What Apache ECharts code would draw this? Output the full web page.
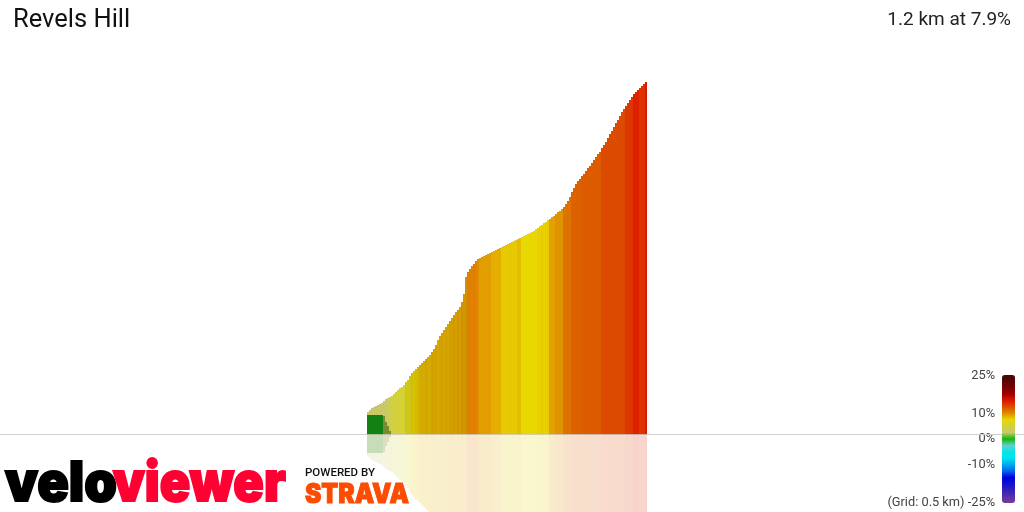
<!DOCTYPE html>
<html><head><meta charset="utf-8">
<style>html,body{margin:0;padding:0;background:#fff}#c{width:1024px;height:512px}</style>
<script src="https://cdn.jsdelivr.net/npm/echarts@6/dist/echarts.min.js"></script>
</head><body><div id="c"></div>
<script>
const titleText = "Revels Hill";
const summaryText = "1.2 km at 7.9%";
const scaleLabels = ["25%","10%","0%","-10%","(Grid: 0.5 km) -25%"];
const scaleGrades = [25,10,0,-10,-25];
const elevation = [22,24,26,27,28,29,30,31,33,35,36,37,38,40,42,44,46,47,49,52,54,58,61,63,65,67,69,71,73,75,77,79,82,85,89,94,98,101,104,107,110,113,116,119,122,124,127,132,140,157,162,165,168,170,173,175,176,177,178,179,180,181,182,183,184,185,186,187,188,189,190,191,192,193,194,195,196,197,198,199,200,201,202,203,205,206,208,209,211,212,214,215,217,218,220,222,223,225,227,230,233,237,242,246,250,253,255,258,260,263,266,268,271,274,277,280,282,286,289,292,296,300,303,307,311,314,318,322,325,328,331,334,337,340,342,344,346,348,350,352];
const grade = [2.5,2.5,2.5,2.5,2.5,2.5,2.5,2.5,2.5,2.5,3.5,4,
 4.5,5,5,5,5.2, 5.5,5, 6.5,6.6,6, 7.9,7.7,8,8.2,
 8.6,8.6,8.5,8.8,8.6,8.5,8.9, 8.8,8.9,8.6,8.8,9,8.7,8.9,8.8,9,
 9,9.2,8.9,9.3,9,9.4,9.2,9.5, 10.6,10.6,10.4,10.6,10.4, 10,
 9.4,9.4,9.4,9.4,9.4,9.4, 8.9,8.9,8.8,8.9,8.9,
 8,8,8,8,8.1,8,8,8, 8.4,8.4, 7.5,7.5,7.5,7.5,7.5,7.5,7.5,7.5,
 7.8,7.8,7.9,7.8,7.8,7.9, 9.3,9.3,9.3, 9.8,9.8,9.8,9.8, 11,11,11.2,11,
 11.8,11.8,11.8,11.8,11.8, 12,12,12.1,12,12,12.1,12,12,12.1,12,
 12.7,12.7,12.8,12.7,12.7,12.8,12.7,12.7,12.8,12.7,12.7,12.8,
 13.6,13.6,13.6,13.6, 14.6,14.6,14.6, 13.8,13.8,13.8, 15];
const greenHeights = [19,19,19,19,19,19,19,19];
const brownHeights = [18,12,8,3];
const shadeColumns = [19,50];
const scaleColors = ["#4a0505","#5e0404","#7a0202","#a00000","#dc1800","#dc5000","#e08c00","#e8d800","#d4d03c","#c8c868","#10b810","#66cccc","#00e8e8","#00e0f0","#00a8f0","#0066ee","#0000e0","#1010d0","#3322b8","#5530a8","#7a3a9a"];

const dist = elevation.map((_, i) => 2 * i + 1);
const hill = elevation.map((h, i) => [dist[i], h, grade[i]]);
const mirror = elevation.map((h, i) => [dist[i], -h, grade[i]]);
const green = greenHeights.map((h, i) => [dist[i], h]);
const brown = brownHeights.map((h, i) => [dist[i + 8], h]);
const greenM = green.map(d => [d[0], -d[1]]);
const brownM = brown.map(d => [d[0], -d[1]]);
const shade = hill.slice(shadeColumns[0], shadeColumns[1]).map(d => [d[0], d[1]]);

function bar(name, data, extra) {
  return Object.assign({ name, type: 'bar', data, barWidth: 2, barGap: '-100%', silent: true, animation: false }, extra);
}
const txt = (x, y, text, size, fill, align, weight, family, sx, bold) => ({
  type: 'text', x, y, silent: true, scaleX: sx || 1,
  style: { text, x: 0, y: 0, fill, align: align || 'left', verticalAlign: 'middle',
    stroke: bold ? fill : null, lineWidth: bold || 0,
    font: `${weight || 400} ${size}px ${family || 'Roboto'}` }
});
const chart = echarts.init(document.getElementById('c'), null, { renderer: 'canvas', width: 1024, height: 512 });
chart.setOption({
  backgroundColor: '#fff', animation: false,
  grid: { left: 0, top: 0, width: 1024, height: 512, containLabel: false },
  xAxis: { type: 'value', min: -367, max: 657, splitLine: { show: false }, axisTick: { show: false }, axisLabel: { show: false },
    axisLine: { show: true, onZero: true, lineStyle: { color: '#cfcfcf', width: 1 } } },
  yAxis: { type: 'value', min: -78, max: 434, show: false, splitLine: { show: false } },
  visualMap: { type: 'continuous', min: -25, max: 25, dimension: 2, seriesIndex: [0, 1], calculable: false, showLabel: false, text: null,
    itemWidth: 13, itemHeight: 128, left: 1002, top: 375, padding: 0, inRange: { color: scaleColors.slice().reverse() } },
  series: [
    bar('hill', hill, { z: 2 }),
    bar('reflection', mirror, { z: 1, itemStyle: { opacity: 0.2 } }),
    bar('green', green, { z: 3, itemStyle: { color: '#138013' } }),
    bar('brown', brown, { z: 3, itemStyle: { color: '#7a8a30' } }),
    bar('greenR', greenM, { z: 3, itemStyle: { color: '#138013', opacity: 0.2 } }),
    bar('brownR', brownM, { z: 3, itemStyle: { color: '#7a8a30', opacity: 0.2 } }),
    bar('shade', shade, { z: 3, itemStyle: { color: '#000', opacity: 0.07 } })
  ],
  graphic: [
    txt(13, 21, titleText, 25.5, '#111'),
    txt(1011, 20, summaryText, 19, '#222', 'right'),
    ...scaleLabels.map((t, i) => txt(995, 375.5 + (25 - scaleGrades[i]) * 2.54, t, 12.8, '#444', 'right')),
    txt(5, 484, 'velo', 55, '#000', 'left', 900, 'Inter', 0.95, 2),
    txt(113, 484, 'viewer', 55, '#ff0033', 'left', 900, 'Inter', 0.915, 2),
    txt(305, 473, 'POWERED BY', 10, '#111', 'left', 500, 'Roboto', 1.15),
    txt(305, 494.5, 'STRAVA', 27, '#fc4c02', 'left', 900, 'Inter', 0.91, 1)
  ]
});
</script></body></html>
